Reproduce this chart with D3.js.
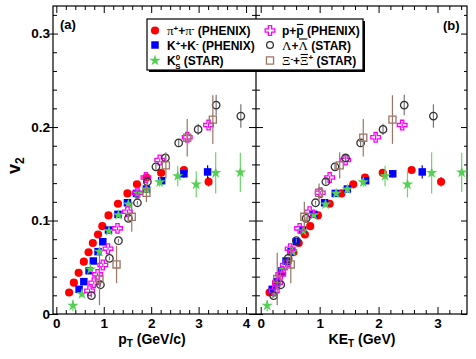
<!DOCTYPE html>
<html>
<head>
<meta charset="utf-8">
<script src="https://cdn.jsdelivr.net/npm/d3@7"></script>
<style>
  body { margin: 0; background: #fff; }
  svg text { font-family: 'Liberation Sans', Arial, sans-serif; font-weight: bold; }
</style>
</head>
<body>
<div id="chart"></div>
<script>
// v2 vs pT (a) and vs KE_T (b)

// pi+ + pi- (PHENIX)
const ptPi = [0.27, 0.37, 0.47, 0.58, 0.68, 0.77, 0.88, 0.97, 1.10, 1.30, 1.50, 1.70, 1.90, 2.21, 2.69, 3.21]
const ketPi = [0.15, 0.26, 0.36, 0.46, 0.555, 0.645, 0.75, 0.84, 0.97, 1.17, 1.37, 1.57, 1.77, 2.07, 2.56, 3.06]
const v2Pi = [0.023, 0.0335, 0.044, 0.056, 0.066, 0.076, 0.085, 0.094, 0.1055, 0.118, 0.129, 0.1387, 0.146, 0.151, 0.154, 0.1415]
const errPi = [0.001, 0.001, 0.001, 0.001, 0.001, 0.001, 0.001, 0.001, 0.001, 0.001, 0.001, 0.001, 0.002, 0.002, 0.003, 0.005]

// K+ + K- (PHENIX)
const ptK = [0.48, 0.58, 0.69, 0.78, 0.88, 0.98, 1.10, 1.30, 1.50, 1.69, 1.90, 2.22, 2.69, 3.19]
const ketK = [0.195, 0.27, 0.355, 0.43, 0.515, 0.605, 0.71, 0.90, 1.085, 1.265, 1.47, 1.78, 2.24, 2.74]
const v2K = [0.0264, 0.0346, 0.0463, 0.0567, 0.0667, 0.0773, 0.0898, 0.1066, 0.119, 0.129, 0.1337, 0.1426, 0.150, 0.152]
const errK = [0.001, 0.001, 0.001, 0.001, 0.001, 0.001, 0.001, 0.001, 0.002, 0.002, 0.002, 0.003, 0.004, 0.007]

// K0s (STAR)
const ptKs = [0.35, 0.54, 0.72, 0.91, 1.11, 1.31, 1.52, 1.71, 1.90, 2.18, 2.56, 2.95, 3.36, 3.88]
const ketKs = [0.11, 0.24, 0.38, 0.54, 0.72, 0.90, 1.10, 1.28, 1.47, 1.74, 2.11, 2.49, 2.90, 3.41]
const v2Ks = [0.009, 0.0214, 0.0478, 0.0667, 0.0888, 0.1059, 0.1173, 0.129, 0.1334, 0.141, 0.1476, 0.1387, 0.151, 0.1515]
const errKs = [0.006, 0.003, 0.002, 0.002, 0.002, 0.002, 0.003, 0.003, 0.004, 0.005, 0.011, 0.014, 0.022, 0.021]

// p + pbar (PHENIX)
const ptP = [0.70, 0.79, 0.87, 0.98, 1.09, 1.29, 1.50, 1.71, 1.89, 2.18, 2.76, 3.21]
const ketP = [0.23, 0.29, 0.34, 0.42, 0.50, 0.66, 0.83, 1.01, 1.17, 1.44, 1.95, 2.40]
const v2P = [0.0249, 0.0335, 0.0424, 0.0524, 0.0699, 0.0916, 0.1094, 0.1297, 0.146, 0.1647, 0.189, 0.2021]
const errP = [0.002, 0.002, 0.002, 0.002, 0.002, 0.002, 0.002, 0.002, 0.002, 0.002, 0.003, 0.003]

// Lambda + Lambdabar (STAR)
const ptLam = [0.74, 0.93, 1.12, 1.31, 1.52, 1.71, 1.92, 2.10, 2.30, 2.58, 2.99, 3.37, 3.89]
const ketLam = [0.22, 0.34, 0.465, 0.605, 0.77, 0.93, 1.105, 1.26, 1.44, 1.695, 2.075, 2.435, 2.93]
const v2Lam = [0.0196, 0.0313, 0.0595, 0.0784, 0.1023, 0.119, 0.1415, 0.1575, 0.167, 0.183, 0.1975, 0.2235, 0.2118]
const errLam = [0.002, 0.002, 0.002, 0.002, 0.002, 0.002, 0.003, 0.003, 0.004, 0.004, 0.006, 0.011, 0.0125]

// Xi- + Xibar+ (STAR)
const ptXi = [0.91, 1.27, 1.59, 1.90, 2.31, 2.76, 3.30]
const ketXi = [0.28, 0.51, 0.74, 0.99, 1.34, 1.74, 2.235]
const v2Xi = [0.0374, 0.053, 0.104, 0.1297, 0.159, 0.1886, 0.208]
const errXi = [0.028, 0.02, 0.016, 0.01, 0.014, 0.02, 0.026]

// tick labels
const xTicksA = [0, 1, 2, 3, 4]
const xTicksB = [0, 1, 2, 3]
const yTicks = [0, 0.1, 0.2, 0.3]

const width = 476
const height = 359
const frame = { left: 53, mid: 256, right: 467, top: 6, bottom: 314 }

const svg = d3.select('#chart')
  .append('svg')
  .attr('width', width)
  .attr('height', height)

const xA = d3.scaleLinear().domain([-0.07, 4.21]).range([frame.left, frame.mid])
const xB = d3.scaleLinear().domain([-0.08, 3.5]).range([frame.mid, frame.right])
const y = d3.scaleLinear().domain([0, 0.3295]).range([frame.bottom, frame.top])

// species styles
const species = [
  { name: 'pi', ptv: ptPi, ket: ketPi, v2: v2Pi, err: errPi, sym: d3.symbolCircle, size: 52, fill: '#ff0000', stroke: 'none', barColor: '#ff0000' },
  { name: 'K', ptv: ptK, ket: ketK, v2: v2K, err: errK, sym: d3.symbolSquare, size: 56, fill: '#0000ff', stroke: 'none', barColor: '#0000ff' },
  { name: 'Ks', ptv: ptKs, ket: ketKs, v2: v2Ks, err: errKs, sym: d3.symbolStar, size: 40, fill: '#55d055', stroke: 'none', barColor: '#6ad86a' },
  { name: 'p', ptv: ptP, ket: ketP, v2: v2P, err: errP, sym: d3.symbolCross, size: 52, fill: 'none', stroke: '#ff00ff', barColor: '#ff00ff' },
  { name: 'Lam', ptv: ptLam, ket: ketLam, v2: v2Lam, err: errLam, sym: d3.symbolCircle, size: 44, fill: 'none', stroke: '#333', barColor: '#777' },
  { name: 'Xi', ptv: ptXi, ket: ketXi, v2: v2Xi, err: errXi, sym: d3.symbolSquare, size: 50, fill: 'none', stroke: '#9c7565', barColor: '#9c7565' },
]

// frame of both panels
svg.append('rect')
  .attr('x', frame.left)
  .attr('y', frame.top)
  .attr('width', frame.right - frame.left)
  .attr('height', frame.bottom - frame.top)
  .attr('fill', 'none')
  .attr('stroke', '#000')
  .attr('stroke-width', 1.2)

svg.append('line')
  .attr('x1', frame.mid).attr('x2', frame.mid)
  .attr('y1', frame.top).attr('y2', frame.bottom)
  .attr('stroke', '#000')
  .attr('stroke-width', 1.2)

// helper: style an axis group
function styleAxis(g) {
  g.select('.domain').remove()
  g.selectAll('.tick line').attr('stroke', '#000').attr('stroke-width', 1)
  g.selectAll('.tick text')
    .attr('fill', '#000')
    .style('font-size', '13.5px')
    .style('font-weight', 'bold')
}

// x axes (bottom labelled, top mirrored)
function xAxes(scale, majors, maxV) {
  const minors = d3.range(0, maxV, 0.2).filter((v) => !majors.some((m) => Math.abs(m - v) < 1e-6))
  svg.append('g')
    .attr('transform', `translate(0,${frame.bottom})`)
    .call(d3.axisBottom(scale).tickValues(minors).tickSize(-4).tickFormat(''))
    .call(styleAxis)
  svg.append('g')
    .attr('transform', `translate(0,${frame.bottom})`)
    .call(d3.axisBottom(scale).tickValues(majors).tickSize(-7).tickPadding(4).tickFormat(d3.format('d')))
    .call(styleAxis)
  svg.append('g')
    .attr('transform', `translate(0,${frame.top})`)
    .call(d3.axisTop(scale).tickValues(minors).tickSize(-4).tickFormat(''))
    .call(styleAxis)
  svg.append('g')
    .attr('transform', `translate(0,${frame.top})`)
    .call(d3.axisTop(scale).tickValues(majors).tickSize(-7).tickFormat(''))
    .call(styleAxis)
}
xAxes(xA, xTicksA, 4.2)
xAxes(xB, xTicksB, 3.5)

// y axes
const yMinors = d3.range(0, 0.33, 0.02).filter((v) => !yTicks.some((m) => Math.abs(m - v) < 1e-6))

// left axis, labelled; major ticks cross the frame
svg.append('g')
  .attr('transform', `translate(${frame.left},0)`)
  .call(d3.axisLeft(y).tickValues(yMinors).tickSize(-4).tickFormat(''))
  .call(styleAxis)
svg.append('g')
  .attr('transform', `translate(${frame.left},0)`)
  .call(d3.axisLeft(y).tickValues(yTicks).tickSize(5).tickPadding(0).tickFormat((d) => (d === 0 ? '0' : d3.format('.1f')(d))))
  .call(styleAxis)
  .call((g) => g.selectAll('.tick line').attr('x2', 5).attr('x1', -5))
  .call((g) => g.selectAll('.tick text').attr('x', -3))

// divider: ticks on both sides
svg.append('g')
  .attr('transform', `translate(${frame.mid},0)`)
  .call(d3.axisLeft(y).tickValues(yMinors).tickSize(4).tickFormat(''))
  .call(styleAxis)
  .call((g) => g.selectAll('.tick line').attr('x1', 4))
svg.append('g')
  .attr('transform', `translate(${frame.mid},0)`)
  .call(d3.axisLeft(y).tickValues(yTicks).tickSize(7).tickFormat(''))
  .call(styleAxis)
  .call((g) => g.selectAll('.tick line').attr('x1', 7))

// right edge, inward ticks
svg.append('g')
  .attr('transform', `translate(${frame.right},0)`)
  .call(d3.axisRight(y).tickValues(yMinors).tickSize(-3).tickFormat(''))
  .call(styleAxis)
svg.append('g')
  .attr('transform', `translate(${frame.right},0)`)
  .call(d3.axisRight(y).tickValues(yTicks).tickSize(-6).tickFormat(''))
  .call(styleAxis)

// points and error bars
function drawPanel(xScale, key) {
  const g = svg.append('g')
  species.forEach((s) => {
    const rows = s.v2.map((v, i) => ({ x: s[key][i], v: v, e: s.err[i] }))
    g.selectAll(null)
      .data(rows)
      .enter()
      .append('line')
      .attr('x1', (d) => xScale(d.x))
      .attr('x2', (d) => xScale(d.x))
      .attr('y1', (d) => y(Math.max(0, d.v - d.e)))
      .attr('y2', (d) => y(d.v + d.e))
      .attr('stroke', s.barColor)
      .attr('stroke-width', 1.2)
    g.selectAll(null)
      .data(rows)
      .enter()
      .append('path')
      .attr('transform', (d) => `translate(${xScale(d.x)},${y(d.v)})`)
      .attr('d', d3.symbol().type(s.sym).size(s.size)())
      .attr('fill', s.fill)
      .attr('stroke', s.stroke)
      .attr('stroke-width', s.stroke === 'none' ? 0 : 1.3)
  })
}
drawPanel(xA, 'ptv')
drawPanel(xB, 'ket')

// panel tags
svg.append('text').attr('x', 60).attr('y', 29).style('font-size', '13px').text('(a)')
svg.append('text').attr('x', 443).attr('y', 30).style('font-size', '13px').text('(b)')

// axis titles
const tA = svg.append('text')
  .attr('x', 152)
  .attr('y', 344)
  .attr('text-anchor', 'middle')
  .style('font-size', '14px')
tA.append('tspan').text('p')
tA.append('tspan').attr('dy', 3).style('font-size', '10px').text('T')
tA.append('tspan').attr('dy', -3).text(' (GeV/c)')

const tB = svg.append('text')
  .attr('x', 362)
  .attr('y', 344)
  .attr('text-anchor', 'middle')
  .style('font-size', '14px')
tB.append('tspan').text('KE')
tB.append('tspan').attr('dy', 3).style('font-size', '10px').text('T')
tB.append('tspan').attr('dy', -3).text(' (GeV)')

const tY = svg.append('text')
  .attr('transform', 'translate(20,174) rotate(-90)')
  .style('font-size', '18px')
tY.append('tspan').text('v')
tY.append('tspan').attr('dy', 4).style('font-size', '12px').text('2')

// legend
const legend = svg.append('g')
const lg = { x: 147, y: 19, w: 216, h: 51 }
legend.append('rect')
  .attr('x', lg.x + 2).attr('y', lg.y + 2)
  .attr('width', lg.w).attr('height', lg.h)
  .attr('fill', '#000')
legend.append('rect')
  .attr('x', lg.x).attr('y', lg.y)
  .attr('width', lg.w).attr('height', lg.h)
  .attr('fill', '#fff')
  .attr('stroke', '#000')
  .attr('stroke-width', 1.2)

// parts: [text, font, dy, size, dx, overline]
const serif = "'Liberation Serif', 'DejaVu Serif', serif"
const legendRows = [
  { s: 0, x: 155, y: 31, parts: [['π', serif], ['+', null, -4, 8], ['+', null, 4], ['π', serif], ['-', null, -4, 8], [' (PHENIX)', null, 4]] },
  { s: 1, x: 155, y: 45.5, parts: [['K'], ['+', null, -4, 8], ['+K', null, 4], ['-', null, -4, 8], [' (PHENIX)', null, 4]] },
  { s: 2, x: 155, y: 61, parts: [['K'], ['0', null, -5, 8], ['S', null, 9, 8, -5], [' (STAR)', null, -4]] },
  { s: 3, x: 270, y: 31, parts: [['p+'], ['p', null, 0, null, 0, true], [' (PHENIX)']] },
  { s: 4, x: 270, y: 45.5, parts: [['Λ', serif], ['+'], ['Λ', serif, 0, null, 0, true], [' (STAR)']] },
  { s: 5, x: 270, y: 61, parts: [['Ξ', serif], ['-', null, -4, 8], ['+', null, 4], ['Ξ', serif, 0, null, 0, true], ['+', null, -5, 8], [' (STAR)', null, 5]] },
]

legendRows.forEach((r) => {
  const s = species[r.s]
  legend.append('path')
    .attr('transform', `translate(${r.x},${r.y - 0.5})`)
    .attr('d', d3.symbol().type(s.sym).size(s.name === 'Lam' ? 36 : s.size)())
    .attr('fill', s.fill)
    .attr('stroke', s.stroke)
    .attr('stroke-width', s.stroke === 'none' ? 0 : 1.3)
  const t = legend.append('text')
    .attr('x', r.x + 12)
    .attr('y', r.y + 4)
    .style('font-size', '12px')
  const bars = []
  let idx = 0
  r.parts.forEach((p) => {
    const ts = t.append('tspan').text(p[0])
    if (p[1]) ts.style('font-family', p[1]).style('font-weight', 'normal').style('font-size', '13px')
    if (p[2]) ts.attr('dy', p[2])
    if (p[3]) ts.style('font-size', p[3] + 'px')
    if (p[4]) ts.attr('dx', p[4])
    if (p[5]) bars.push(idx)
    idx += p[0].length
  })
  // overline bars for antiparticles
  bars.forEach((i) => {
    const box = t.node().getExtentOfChar(i)
    legend.append('line')
      .attr('x1', box.x + 0.5)
      .attr('x2', box.x + box.width - 0.5)
      .attr('y1', r.y - 6.5)
      .attr('y2', r.y - 6.5)
      .attr('stroke', '#000')
      .attr('stroke-width', 1.1)
  })
})
</script>
</body>
</html>
